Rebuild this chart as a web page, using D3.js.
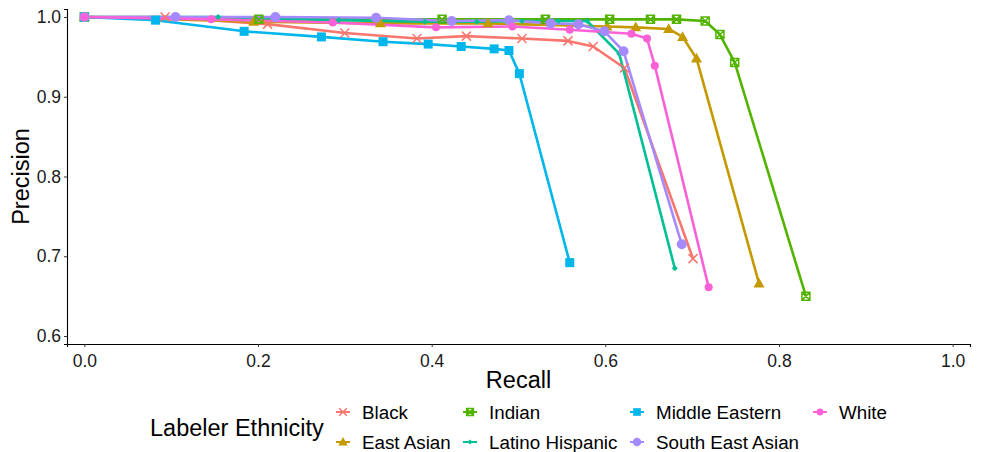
<!DOCTYPE html>
<html>
<head>
<meta charset="utf-8">
<script src="https://cdn.jsdelivr.net/npm/d3@7"></script>
<style>
  body { margin: 0; background: #fff; }
  svg { display: block; font-family: "Liberation Sans", Arial, sans-serif; }
</style>
</head>
<body>
<svg id="chart" width="984" height="452"></svg>
<script>
// ——— données
const groups = ["Black", "East Asian", "Indian", "Latino Hispanic", "Middle Eastern", "South East Asian", "White"];
const colors = ["#F8766D", "#C49A00", "#53B400", "#00C094", "#00B6EB", "#A58AFF", "#FB61D7"];
const shapes = ["x", "triangle", "squarecross", "diamond", "square", "bigcircle", "circle"];

const recallBlack = [0, 0.093, 0.211, 0.300, 0.383, 0.440, 0.504, 0.557, 0.586, 0.622, 0.701];
const precBlack   = [1, 1.000, 0.991, 0.980, 0.973, 0.976, 0.973, 0.970, 0.963, 0.936, 0.697];

const recallEastAsian = [0, 0.195, 0.341, 0.465, 0.602, 0.635, 0.673, 0.689, 0.705, 0.777];
const precEastAsian   = [1, 0.994, 0.992, 0.992, 0.988, 0.987, 0.985, 0.975, 0.948, 0.666];

const recallIndian = [0, 0.201, 0.412, 0.531, 0.605, 0.652, 0.682, 0.715, 0.732, 0.749, 0.831];
const precIndian   = [1, 0.997, 0.997, 0.997, 0.997, 0.997, 0.997, 0.995, 0.978, 0.943, 0.650];

const recallLatino = [0, 0.154, 0.293, 0.392, 0.452, 0.504, 0.546, 0.579, 0.616, 0.680];
const precLatino   = [1, 1.000, 0.996, 0.994, 0.994, 0.995, 0.995, 0.995, 0.954, 0.685];

const recallMiddleEastern = [0, 0.082, 0.184, 0.273, 0.344, 0.396, 0.434, 0.472, 0.489, 0.501, 0.559];
const precMiddleEastern   = [1, 0.996, 0.982, 0.975, 0.969, 0.966, 0.963, 0.960, 0.958, 0.929, 0.692];

const recallSEAsian = [0, 0.105, 0.220, 0.336, 0.423, 0.489, 0.537, 0.569, 0.599, 0.621, 0.688];
const precSEAsian   = [1, 1.000, 1.000, 0.999, 0.995, 0.996, 0.992, 0.991, 0.982, 0.957, 0.715];

const recallWhite = [0, 0.146, 0.286, 0.405, 0.493, 0.559, 0.630, 0.648, 0.657, 0.719];
const precWhite   = [1, 0.997, 0.993, 0.987, 0.988, 0.984, 0.979, 0.973, 0.939, 0.661];

const xTicks = [0, 0.2, 0.4, 0.6, 0.8, 1.0];
const yTicks = [0.6, 0.7, 0.8, 0.9, 1.0];

const recalls = [recallBlack, recallEastAsian, recallIndian, recallLatino, recallMiddleEastern, recallSEAsian, recallWhite];
const precs   = [precBlack, precEastAsian, precIndian, precLatino, precMiddleEastern, precSEAsian, precWhite];

const series = groups.map((g, i) => ({
  name: g, color: colors[i], shape: shapes[i],
  pts: recalls[i].map((r, j) => ({ r, p: precs[i][j] }))
}));

// ——— formes des points
function shapePath(shape, s) {
  const h = s / 2;
  switch (shape) {
    case "square": return `M${-h},${-h}H${h}V${h}H${-h}Z`;
    case "triangle": return `M0,${-h * 1.15}L${h * 1.1},${h * 0.8}L${-h * 1.1},${h * 0.8}Z`;
    case "diamond": return `M0,${-h}L${h},0L0,${h}L${-h},0Z`;
    case "x": return `M${-h},${-h}L${h},${h}M${-h},${h}L${h},${-h}`;
    case "squarecross": return `M${-h},${-h}H${h}V${h}H${-h}ZM${-h},${-h}L${h},${h}M${-h},${h}L${h},${-h}`;
    default: return d3.arc()({ innerRadius: 0, outerRadius: h, startAngle: 0, endAngle: 2 * Math.PI });
  }
}
const markSize = { square: 9, triangle: 10, diamond: 6, x: 9, squarecross: 8, bigcircle: 10, circle: 8 };
const stroked = s => s === "x" || s === "squarecross";

function drawMark(sel, d, scale) {
  const s = markSize[d.shape] * scale;
  sel.append("path")
    .attr("d", shapePath(d.shape, s))
    .attr("fill", stroked(d.shape) ? "none" : d.color)
    .attr("stroke", d.color)
    .attr("stroke-width", stroked(d.shape) ? 1.5 : 0);
}

// ——— mise en page
const svg = d3.select("#chart");
const margin = { left: 67, right: 14, top: 9, bottom: 108 };
const W = 984, H = 452;

const x = d3.scaleLinear().domain([-0.02, 1.02]).range([margin.left, W - margin.right]);
const y = d3.scaleLinear().domain([0.59, 1.01]).range([H - margin.bottom, margin.top]);

// axes
const xAxis = svg.append("g")
  .attr("transform", `translate(0,${H - margin.bottom})`)
  .call(d3.axisBottom(x).tickValues(xTicks).tickFormat(d3.format(".1f")).tickSize(3).tickPadding(3));
const yAxis = svg.append("g")
  .attr("transform", `translate(${margin.left},0)`)
  .call(d3.axisLeft(y).tickValues(yTicks).tickFormat(d3.format(".1f")).tickSize(3).tickPadding(3));

[xAxis, yAxis].forEach(a => {
  a.select(".domain").attr("stroke", "#000").attr("stroke-width", 1.1);
  a.selectAll(".tick line").attr("stroke", "#333");
  a.selectAll(".tick text").attr("fill", "#1a1a1a").style("font-size", "17.5px")
    .style("font-family", '"Liberation Sans", Arial, sans-serif');
});
xAxis.selectAll(".tick text").attr("dy", "0.95em");

// titres
svg.append("text").attr("x", (x(0) + x(1)) / 2).attr("y", 388)
  .attr("text-anchor", "middle").style("font-size", "23.5px").attr("fill", "#000").text("Recall");
svg.append("text").attr("transform", `translate(29,${(y(0.59) + y(1.01)) / 2}) rotate(-90)`)
  .attr("text-anchor", "middle").style("font-size", "23.5px").attr("fill", "#000").text("Precision");

// lignes
const line = d3.line().x(d => x(d.r)).y(d => y(d.p));
const plot = svg.append("g");
series.forEach(s => {
  plot.append("path").datum(s.pts)
    .attr("d", line)
    .attr("fill", "none")
    .attr("stroke", s.color)
    .attr("stroke-width", 2.6)
    .attr("stroke-linejoin", "round");
});
// points
series.forEach(s => {
  s.pts.forEach(p => {
    const g = plot.append("g").attr("transform", `translate(${x(p.r)},${y(p.p)})`);
    drawMark(g, s, 1);
  });
});

// ——— légende
const leg = svg.append("g");
leg.append("text").attr("x", 150).attr("y", 436).style("font-size", "23.5px").attr("fill", "#000")
  .text("Labeler Ethnicity");
const colX = [343, 470, 637, 820];
const rowY = [412, 442];
series.forEach((s, i) => {
  const cx = colX[Math.floor(i / 2)], cy = rowY[i % 2];
  const g = leg.append("g").attr("transform", `translate(${cx},${cy})`);
  g.append("line").attr("x1", -7).attr("x2", 7).attr("stroke", s.color).attr("stroke-width", 2);
  drawMark(g, s, 0.85);
  leg.append("text").attr("x", cx + 19).attr("y", cy).attr("dy", "0.35em")
    .style("font-size", "18.8px").attr("fill", "#000").text(s.name);
});
</script>
</body>
</html>
